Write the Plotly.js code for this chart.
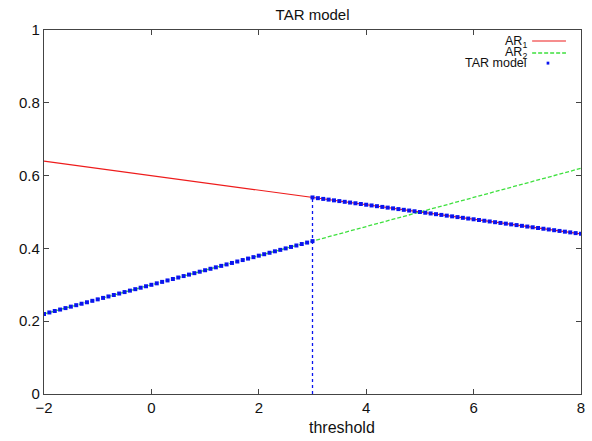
<!DOCTYPE html>
<html><head><meta charset="utf-8">
<script src="https://cdn.plot.ly/plotly-3.0.1.min.js"></script>
<style>html,body{margin:0;padding:0;background:#fff}#c{width:592px;height:441px}</style>
</head><body><div id="c"></div>
<script>
// AR1 and AR2 regime lines (endpoints)
const arX = [-2, 8];
const ar1Y = [0.64, 0.44];
const ar2Y = [0.22, 0.62];
// threshold
const thresholdX = [3, 3];
const thresholdY = [0, 0.54];
// TAR model points: lower regime (x <= 3) follows AR2
const tarLowX = [-2.0,-1.9,-1.8,-1.7,-1.6,-1.5,-1.4,-1.3,-1.2,-1.1,-1.0,-0.9,-0.8,-0.7,-0.6,-0.5,-0.4,-0.3,-0.2,-0.1,0.0,0.1,0.2,0.3,0.4,0.5,0.6,0.7,0.8,0.9,1.0,1.1,1.2,1.3,1.4,1.5,1.6,1.7,1.8,1.9,2.0,2.1,2.2,2.3,2.4,2.5,2.6,2.7,2.8,2.9,3.0];
const tarLowY = [0.220,0.224,0.228,0.232,0.236,0.240,0.244,0.248,0.252,0.256,0.260,0.264,0.268,0.272,0.276,0.280,0.284,0.288,0.292,0.296,0.300,0.304,0.308,0.312,0.316,0.320,0.324,0.328,0.332,0.336,0.340,0.344,0.348,0.352,0.356,0.360,0.364,0.368,0.372,0.376,0.380,0.384,0.388,0.392,0.396,0.400,0.404,0.408,0.412,0.416,0.420];
// upper regime (x >= 3) follows AR1
const tarHighX = [3.0,3.1,3.2,3.3,3.4,3.5,3.6,3.7,3.8,3.9,4.0,4.1,4.2,4.3,4.4,4.5,4.6,4.7,4.8,4.9,5.0,5.1,5.2,5.3,5.4,5.5,5.6,5.7,5.8,5.9,6.0,6.1,6.2,6.3,6.4,6.5,6.6,6.7,6.8,6.9,7.0,7.1,7.2,7.3,7.4,7.5,7.6,7.7,7.8,7.9,8.0];
const tarHighY = [0.540,0.538,0.536,0.534,0.532,0.530,0.528,0.526,0.524,0.522,0.520,0.518,0.516,0.514,0.512,0.510,0.508,0.506,0.504,0.502,0.500,0.498,0.496,0.494,0.492,0.490,0.488,0.486,0.484,0.482,0.480,0.478,0.476,0.474,0.472,0.470,0.468,0.466,0.464,0.462,0.460,0.458,0.456,0.454,0.452,0.450,0.448,0.446,0.444,0.442,0.440];
const xTicks = [-2, 0, 2, 4, 6, 8];
const xTickText = ['\u22122', '0', '2', '4', '6', '8'];
const yTicks = [0, 0.2, 0.4, 0.6, 0.8, 1];
const yTickText = ['0', '0.2', '0.4', '0.6', '0.8', '1'];
const legendNames = ['AR<sub>1</sub>', 'AR<sub>2</sub>', 'TAR model'];
const xTitle = 'threshold';

const red = '#ee1c1c', green = '#3ee03e', blue = '#0a14f0';
const font = 'Liberation Sans, Arial, sans-serif';

const traces = [
  {x: arX, y: ar1Y, mode: 'lines', line: {color: red, width: 1.2}, hoverinfo: 'skip'},
  {x: arX, y: ar2Y, mode: 'lines', line: {color: green, width: 1.3, dash: '4px,2px'}, hoverinfo: 'skip'},
  {x: thresholdX, y: thresholdY, mode: 'lines', line: {color: blue, width: 1.3, dash: 'dot'}, hoverinfo: 'skip'},
  {x: tarLowX, y: tarLowY, mode: 'markers', marker: {symbol: 'square', size: 4, color: blue}, hoverinfo: 'skip'},
  {x: tarHighX, y: tarHighY, mode: 'markers', marker: {symbol: 'square', size: 4, color: blue}, hoverinfo: 'skip'}
];

const axBase = {
  showline: true, mirror: 'ticks', linecolor: '#444', linewidth: 1.2,
  ticks: 'inside', ticklen: 5, tickcolor: '#444', tickwidth: 1.2,
  showgrid: false, zeroline: false, tickmode: 'array',
  tickfont: {family: font, size: 15, color: '#111'}
};

const legFont = {family: font, size: 12.5, color: '#111'};

const layout = {
  width: 592, height: 441,
  margin: {l: 44, r: 11, t: 30, b: 47},
  paper_bgcolor: '#fff', plot_bgcolor: '#fff',
  showlegend: false,
  title: {text: 'TAR model', font: {family: font, size: 15, color: '#111'}, x: 0.528, xanchor: 'center', y: 0.966, yanchor: 'middle'},
  xaxis: Object.assign({}, axBase, {range: [-2, 8], tickvals: xTicks, ticktext: xTickText}),
  yaxis: Object.assign({}, axBase, {range: [0, 1], tickvals: yTicks, ticktext: yTickText}),
  annotations: [
    {xref: 'paper', yref: 'paper', x: 0.555, y: -0.093, xanchor: 'center', yanchor: 'middle', text: xTitle, showarrow: false, font: {family: font, size: 16, color: '#111'}},
    {xref: 'paper', yref: 'paper', x: 0.903, y: 0.9684, xanchor: 'right', yanchor: 'middle', text: legendNames[0], showarrow: false, font: legFont},
    {xref: 'paper', yref: 'paper', x: 0.903, y: 0.9368, xanchor: 'right', yanchor: 'middle', text: legendNames[1], showarrow: false, font: legFont},
    {xref: 'paper', yref: 'paper', x: 0.903, y: 0.909, xanchor: 'right', yanchor: 'middle', text: legendNames[2], showarrow: false, font: legFont}
  ],
  shapes: [
    {type: 'line', xref: 'paper', yref: 'paper', x0: 0.909, x1: 0.972, y0: 0.9698, y1: 0.9698, line: {color: red, width: 1.2}},
    {type: 'line', xref: 'paper', yref: 'paper', x0: 0.909, x1: 0.972, y0: 0.9368, y1: 0.9368, line: {color: green, width: 1.3, dash: '4px,2px'}},
    {type: 'rect', xref: 'paper', yref: 'paper', x0: 0.936, x1: 0.941, y0: 0.905, y1: 0.913, fillcolor: blue, line: {width: 0}}
  ]
};

Plotly.newPlot('c', traces, layout, {staticPlot: true, displayModeBar: false});
</script>
</body></html>
